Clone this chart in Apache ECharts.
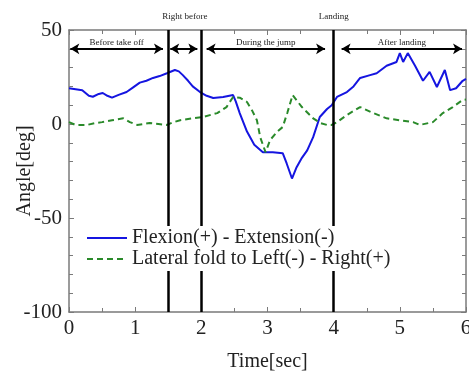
<!DOCTYPE html>
<html>
<head>
<meta charset="utf-8">
<script src="https://cdn.jsdelivr.net/npm/echarts@6/dist/echarts.min.js"></script>
<style>
  html, body { margin: 0; padding: 0; background: #fff; }
  #chart { width: 469px; height: 374px; }
</style>
</head>
<body>
<div id="chart"></div>
<script>
// Flexion(+) - Extension(-) : [time, angle]
const flexion = [
  [0, 19], [0.1, 18.5], [0.2, 18], [0.3, 15], [0.36, 14.5], [0.45, 16], [0.51, 16.5],
  [0.58, 15], [0.65, 14], [0.75, 15.5], [0.87, 17], [0.97, 19.5], [1.07, 22], [1.17, 23],
  [1.27, 24.5], [1.37, 25.5], [1.48, 27], [1.6, 28.7], [1.66, 28], [1.72, 26], [1.8, 23],
  [1.87, 20], [1.98, 17], [2.08, 15], [2.18, 13.8], [2.33, 14.4], [2.48, 15.4], [2.52, 12],
  [2.58, 5.8], [2.69, -4], [2.8, -11], [2.93, -15], [3.08, -15], [3.23, -15.5], [3.29, -21],
  [3.37, -29], [3.44, -23], [3.52, -18], [3.6, -14], [3.69, -7], [3.79, 3.7], [3.9, 8],
  [3.97, 10], [4.05, 14.4], [4.2, 17], [4.3, 20], [4.4, 24.5], [4.55, 26], [4.65, 27],
  [4.8, 31], [4.95, 33], [5.0, 37.7], [5.05, 33], [5.12, 37.7], [5.23, 31], [5.35, 23],
  [5.45, 27.7], [5.56, 19.7], [5.68, 28.7], [5.76, 18], [5.85, 19], [5.95, 23], [6.0, 24]
]

// Lateral fold to Left(-) - Right(+) : [time, angle]
const lateral = [
  [0, 1], [0.1, -0.5], [0.27, -0.5], [0.4, 0.5], [0.5, 1], [0.65, 2], [0.82, 3], [0.92, 1],
  [1.03, -0.5], [1.22, 0.5], [1.35, 0], [1.48, -0.5], [1.58, 1], [1.68, 2], [1.87, 3],
  [2.02, 3.7], [2.24, 5.8], [2.38, 9], [2.48, 14.4], [2.58, 14], [2.69, 11.7], [2.77, 7],
  [2.84, 2], [2.89, -7], [2.97, -15], [3.04, -8.5], [3.15, -4], [3.23, -1.6], [3.3, 6],
  [3.38, 15.4], [3.52, 9], [3.69, 3], [3.8, 0.5], [3.9, -0.5], [3.97, -0.5], [4.05, 1],
  [4.2, 4.8], [4.4, 9], [4.6, 5.8], [4.8, 3], [5.0, 2], [5.2, 1], [5.3, -0.5], [5.5, 1],
  [5.65, 5.8], [5.8, 9], [5.95, 12.8], [6.0, 13]
]

// phase boundaries (sec); label '' = none
const phaseLines = [['', 1.5], ['', 2], ['Landing', 4]]
// label above the frame between the first two boundaries
const rightBefore = ['Right before', 1.75]
// phase arrows: [label, start, end]
const phaseArrows = [
  ['Before take off', 0.02, 1.42],
  ['', 1.53, 1.94],
  ['During the jump', 2.08, 3.87],
  ['After landing', 4.12, 5.94]
]
const arrowLevel = 40

const serif = '"Liberation Serif", "DejaVu Serif", serif'
const axisColor = '#7a7a7a'
const topLabel = {
  show: true, position: 'end', distance: 9,
  fontFamily: serif, fontSize: 9, color: '#222'
}

const chart = echarts.init(document.getElementById('chart'))

const baseAxis = {
  axisLine: { show: true, onZero: false, lineStyle: { color: axisColor, width: 1.5 } },
  axisTick: { show: true, inside: true, length: 5, lineStyle: { color: axisColor } },
  minorTick: { show: true, length: 4, lineStyle: { color: axisColor } },
  splitLine: { show: false },
  minorSplitLine: { show: false }
}

chart.setOption({
  animation: false,
  grid: { left: 69, right: 3, top: 30, bottom: 62, outerBoundsMode: 'none' },
  legend: {
    left: 84,
    top: 226,
    z: 10,
    orient: 'vertical',
    itemGap: 1,
    itemWidth: 40,
    itemHeight: 12,
    padding: [2, 4, 2, 2],
    backgroundColor: '#fff',
    itemStyle: { opacity: 0 },
    textStyle: { fontFamily: serif, fontSize: 20, color: '#222' },
    data: ['Flexion(+) - Extension(-)', 'Lateral fold to Left(-) - Right(+)']
  },
  xAxis: [
    {
      ...baseAxis,
      type: 'value', min: 0, max: 6, interval: 1,
      minorTick: { ...baseAxis.minorTick, splitNumber: 2 },
      name: 'Time[sec]', nameLocation: 'middle', nameGap: 40, nameMoveOverlap: false,
      nameTextStyle: { fontFamily: serif, fontSize: 20, color: '#222' },
      axisLabel: { fontFamily: serif, fontSize: 21, color: '#222', margin: 6 }
    },
    {
      ...baseAxis,
      type: 'value', min: 0, max: 6, interval: 1, position: 'top',
      minorTick: { ...baseAxis.minorTick, splitNumber: 2 },
      axisLabel: { show: false }
    }
  ],
  yAxis: [
    {
      ...baseAxis,
      type: 'value', min: -100, max: 50, interval: 50,
      minorTick: { ...baseAxis.minorTick, splitNumber: 5 },
      name: 'Angle[deg]', nameLocation: 'middle', nameGap: 34, nameRotate: 90,
      nameMoveOverlap: false,
      nameTextStyle: { fontFamily: serif, fontSize: 20, color: '#222' },
      axisLabel: { fontFamily: serif, fontSize: 21, color: '#222', margin: 7 }
    },
    {
      ...baseAxis,
      type: 'value', min: -100, max: 50, interval: 50, position: 'right',
      minorTick: { ...baseAxis.minorTick, splitNumber: 5 },
      axisLabel: { show: false }
    }
  ],
  series: [
    {
      name: 'Flexion(+) - Extension(-)',
      type: 'line',
      data: flexion,
      symbol: 'none',
      lineStyle: { color: '#1515e0', width: 2 },
      itemStyle: { color: '#1515e0' },
      markLine: {
        silent: true,
        symbol: 'none',
        animation: false,
        lineStyle: { color: '#000', width: 2.5, type: 'solid' },
        label: { show: false },
        data: phaseLines.map(([name, t]) => ({
          xAxis: t,
          label: name ? { ...topLabel, formatter: name } : { show: false }
        })).concat([{
          xAxis: rightBefore[1],
          lineStyle: { color: 'rgba(0,0,0,0)', width: 0 },
          label: { ...topLabel, formatter: rightBefore[0] }
        }])
      }
    },
    {
      name: 'Lateral fold to Left(-) - Right(+)',
      type: 'line',
      data: lateral,
      symbol: 'none',
      lineStyle: { color: '#2a8a2a', width: 2, type: [6, 4] },
      itemStyle: { color: '#2a8a2a' },
      markLine: {
        silent: true,
        animation: false,
        symbol: ['arrow', 'arrow'],
        symbolSize: [8, 9],
        lineStyle: { color: '#000', width: 2, type: 'solid' },
        label: {
          show: true, position: 'insideMiddleTop', distance: 2,
          fontFamily: serif, fontSize: 9, color: '#222',
          formatter: p => p.name
        },
        data: phaseArrows.map(([name, a, b]) => [
          { name, coord: [a, arrowLevel] },
          { coord: [b, arrowLevel] }
        ])
      }
    }
  ]
})
</script>
</body>
</html>
